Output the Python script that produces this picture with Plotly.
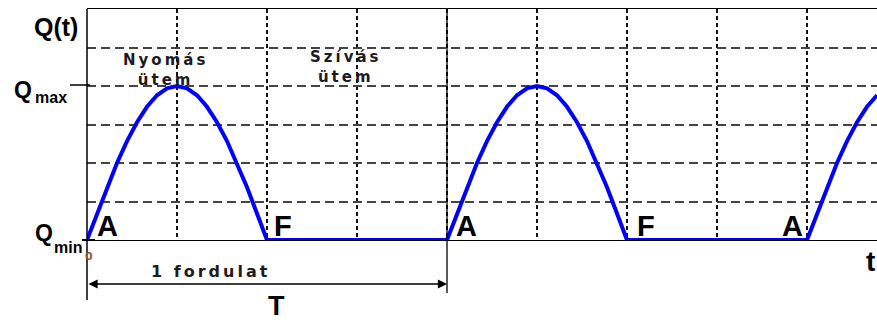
import plotly.graph_objects as go

# Crank angle (deg, 1 revolution = 360) and delivered flow Q(t) in grid units (Qmin = 0, Qmax = 4)
t_deg = [0, 10, 20, 30, 40, 50, 60, 70, 80, 90, 100, 110, 120, 130, 140, 150, 160, 170, 180,
         360, 370, 380, 390, 400, 410, 420, 430, 440, 450, 460, 470, 480, 490, 500, 510, 520, 530, 540,
         720, 730, 740, 750, 760, 770, 780, 790]
q_vals = [0, 0.69, 1.37, 2.00, 2.57, 3.06, 3.46, 3.76, 3.94, 4.00, 3.94, 3.76, 3.46, 3.06, 2.57, 2.00, 1.37, 0.69, 0,
          0, 0.69, 1.37, 2.00, 2.57, 3.06, 3.46, 3.76, 3.94, 4.00, 3.94, 3.76, 3.46, 3.06, 2.57, 2.00, 1.37, 0.69, 0,
          0, 0.69, 1.37, 2.00, 2.57, 3.06, 3.46, 3.76]

# Point labels: A = start of delivery, F = end of delivery
point_labels = ["A", "F", "A", "F", "A"]
point_x = [20, 196, 379, 559, 705]

stroke_labels = ["Nyomás<br>ütem", "Szívás<br>ütem"]
stroke_x = [78, 259]
stroke_y = [4.41, 4.49]

period = 360
q_max = 4
q_min = 0

BIG = "Liberation Sans, Arial, sans-serif"
WIDE = "DejaVu Sans, Verdana, sans-serif"

W, H = 877, 323
PL, PT, PW, PH = 87, 9, 790, 231   # plot area in page pixels (left, top, width, height)
def px(x):
    return (x - PL) / PW
def py(y):
    return (PT + PH - y) / PH

fig = go.Figure()
fig.add_trace(go.Scatter(x=t_deg, y=q_vals, mode="lines",
                         line=dict(color="#0000ff", width=4), hoverinfo="skip", showlegend=False))

ann = []
def ptxt(x, y, s, size, family=BIG, color="#000000", xanchor="center"):
    ann.append(dict(x=px(x), y=py(y), xref="paper", yref="paper", text=s, showarrow=False, xanchor=xanchor,
                    yanchor="middle", font=dict(family=family, size=size, color=color, weight="bold")))

def dtxt(x, y, s, size, family=BIG, color="#000000"):
    ann.append(dict(x=x, y=y, xref="x", yref="y", text=s, showarrow=False, xanchor="center",
                    yanchor="middle", font=dict(family=family, size=size, color=color, weight="bold")))

ptxt(56, 27, "Q(t)", 25)
ptxt(23, 90, "Q", 23)
ptxt(51, 97, "max", 16)
ptxt(44, 233, "Q", 23)
ptxt(68, 247, "min", 16)
ptxt(88.5, 256, "0", 11, family=WIDE, color="#9a5a1e")
for lab, x in zip(point_labels, point_x):
    dtxt(x, 0.36, lab, 29)
for lab, x, y in zip(stroke_labels, stroke_x, stroke_y):
    dtxt(x, y, lab, 15, family=WIDE, color="#1e1a22")
ptxt(211, 271, "1 fordulat", 16, family=WIDE, color="#1e1a22")
ptxt(276, 306, "T", 27)
ptxt(870, 261, "t", 28)

# dimension arrow for one revolution
ann.append(dict(x=px(447), y=py(284), xref="paper", yref="paper", ax=-360, ay=0,
                text="", showarrow=True, arrowside="end+start", arrowhead=2, arrowsize=1.4,
                arrowwidth=1.3, arrowcolor="#000000", standoff=0, startstandoff=0))

shapes = [
    dict(type="line", xref="paper", yref="paper", x0=0, x1=0, y0=1, y1=py(300), line=dict(color="#000", width=1.5), layer="above"),
    dict(type="line", xref="paper", yref="paper", x0=px(447), x1=px(447), y0=1, y1=py(293), line=dict(color="#000", width=1.3), layer="above"),
    dict(type="line", xref="paper", yref="paper", x0=px(70), x1=px(90), y0=py(85), y1=py(85), line=dict(color="#000", width=1.5), layer="above"),
    dict(type="line", xref="paper", yref="paper", x0=px(82), x1=px(95), y0=0, y1=0, line=dict(color="#000", width=2), layer="below"),
]

fig.update_layout(
    width=W, height=H,
    margin=dict(l=PL, r=W - PL - PW, t=PT, b=H - PT - PH),
    paper_bgcolor="white", plot_bgcolor="white",
    annotations=ann, shapes=shapes,
    xaxis=dict(range=[0, 790], tick0=0, dtick=90, showgrid=True, gridcolor="#111111", griddash="4px,3px",
               gridwidth=1.7, showticklabels=False, ticks="", zeroline=False,
               showline=True, mirror=True, linecolor="#000000", linewidth=1.4),
    yaxis=dict(range=[0, 6], tick0=0, dtick=1, showgrid=True, gridcolor="#444444", griddash="9px,5px",
               gridwidth=1.5, showticklabels=False, ticks="", zeroline=False, showline=False),
)

post = """
document.documentElement.style.margin = '0';
document.documentElement.style.overflow = 'hidden';
document.body.style.margin = '0';
document.body.style.overflow = 'hidden';
var gd = document.getElementById('{plot_id}');
gd.querySelectorAll('.annotation-text').forEach(function(el){
  var s = el.textContent;
  if (/Nyom|Sz|ford/.test(s)) { el.style.letterSpacing = '3px'; }
});
"""
fig.write_html("out.html", post_script=post, config={"displayModeBar": False})
